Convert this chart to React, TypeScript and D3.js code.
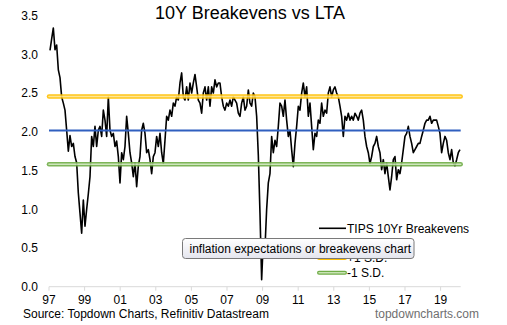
import React from "react";
import * as d3 from "d3";

const W = 507;
const H = 325;
const FONT = '"Liberation Sans", Arial, Helvetica, sans-serif';

const chartTitle = "10Y Breakevens vs LTA";
const sourceText = "Source: Topdown Charts, Refinitiv Datastream";
const brandText = "topdowncharts.com";
const tooltipText = "inflation expectations or breakevens chart";

const yTicks = [0, 0.5, 1, 1.5, 2, 2.5, 3, 3.5];
const xTickYears = [1997, 1999, 2001, 2003, 2005, 2007, 2009, 2011, 2013, 2015, 2017, 2019];
const xTickLabels = ["97", "99", "01", "03", "05", "07", "09", "11", "13", "15", "17", "19"];

// samples roughly every 34 days starting early 1997
const firstSampleYear = 1997.056;
const sampleStepYears = 0.09363;

const breakevens = [
  3.05, 3.2, 3.34, 3.06, 3.12, 2.8, 2.7, 2.45, 2.37, 2.28,
  2.02, 1.75, 1.95, 1.81, 1.85, 1.68, 1.6, 1.21, 0.95, 0.69,
  1.12, 0.78, 1.0, 1.2, 1.42, 1.94, 1.81, 2.07, 1.81, 2.02,
  2.07, 1.94, 2.28, 2.15, 1.94, 2.45, 2.02, 1.94, 1.98, 1.81,
  1.88, 1.68, 1.34, 1.73, 1.64, 1.81, 2.2, 1.98, 1.73, 1.6,
  1.42, 1.6, 1.29, 1.56, 1.68, 2.02, 2.11, 1.98, 1.73, 1.77,
  1.64, 1.46, 1.68,
  1.73, 1.94, 1.81, 1.98, 1.73, 1.59, 1.89, 2.2, 2.15, 2.28,
  2.2, 2.37, 2.33, 2.45, 2.41, 2.63, 2.76, 2.45, 2.41, 2.58,
  2.41, 2.63, 2.5, 2.63, 2.74, 2.58, 2.41, 2.37, 2.24, 2.5,
  2.58, 2.41, 2.58, 2.33, 2.58, 2.5, 2.67, 2.58, 2.63, 2.63,
  2.45, 2.33, 2.28, 2.37, 2.33, 2.41, 2.33, 2.45, 2.41, 2.37,
  2.24, 2.2, 2.37, 2.45, 2.28, 2.33, 2.54, 2.37, 2.33, 2.5,
  2.45,
  2.2, 1.7, 0.95, 0.09, 0.6, 0.5, 1.0, 1.34, 1.46, 1.94,
  1.73, 1.89, 1.81, 2.07, 2.37, 2.33, 2.2, 2.41, 2.15, 1.94,
  2.02, 1.77, 1.55, 1.85, 2.07, 2.33, 2.28, 2.5, 2.63, 2.45,
  2.58, 2.2, 2.37, 2.07, 1.77, 1.98, 1.94, 2.15, 2.11, 2.37,
  2.2, 2.28, 2.24, 2.5, 2.58, 2.45, 2.54, 2.58, 2.5, 2.45,
  2.33, 2.2, 1.94, 2.2, 2.15, 2.24, 2.15, 2.2, 2.15, 2.24,
  2.2, 2.15, 2.24, 2.28, 2.15, 1.94,
  1.81, 1.73, 1.59, 1.68, 1.81, 1.85, 1.94, 1.81, 1.73, 1.51,
  1.64, 1.46, 1.6, 1.42, 1.25, 1.42, 1.64, 1.68, 1.38, 1.51,
  1.46, 1.6, 1.77, 1.94, 1.98, 2.07, 1.94, 1.85, 1.73, 1.77,
  1.81, 1.85, 1.85, 1.94, 2.02, 2.11, 2.15, 2.15, 2.2, 2.11,
  2.15, 2.15, 2.15, 2.07, 1.98, 1.73, 1.85, 1.94, 1.89, 1.73,
  1.64, 1.77, 1.6, 1.56, 1.64, 1.73, 1.77,
];

const longTermAvg = 2.015;
const plusOneSD = 2.455;
const minusOneSD = 1.58;

// second entry (long-term average) sits fully under the tooltip in the reference
const legendLabels = ["TIPS 10Yr Breakevens", "", "+1 S.D.", "-1 S.D."];

const YELLOW = "#ffc000";
const YELLOW_IN = "#ffe48a";
const BLUE = "#2f5fbf";
const GREEN = "#70ad47";
const GREEN_IN = "#c9e3b6";

export default function App() {
  const x = d3.scaleLinear().domain([1997, 2020.13]).range([49, 460.7]);
  const y = d3.scaleLinear().domain([0, 3.5]).range([286.7, 15.6]);

  const points: [number, number][] = breakevens.map((v, i) => [
    firstSampleYear + i * sampleStepYears,
    v,
  ]);
  const line = d3
    .line<[number, number]>()
    .x((d) => x(d[0]))
    .y((d) => y(d[1]));

  const x0 = x.range()[0];
  const x1 = x.range()[1];

  const band = (val: number, outer: string, inner: string) => (
    <g opacity={0.9}>
      <line x1={x0} x2={x1} y1={y(val)} y2={y(val)} stroke={outer} strokeWidth={4.5} strokeLinecap="round" />
      <line x1={x0} x2={x1} y1={y(val)} y2={y(val)} stroke={inner} strokeWidth={1.6} strokeLinecap="round" />
    </g>
  );

  const legX = 319;
  const legY0 = 228.3;
  const legStep = 14.8;

  return (
    <svg
      width={W}
      height={H}
      style={{ position: "absolute", left: 0, top: 0, background: "#fff" }}
      fontFamily={FONT}
    >
      <defs>
        <linearGradient id="tipGrad" x1="0" y1="0" x2="0" y2="1">
          <stop offset="0" stopColor="#ffffff" />
          <stop offset="1" stopColor="#e4e5ee" />
        </linearGradient>
      </defs>
      <rect x={0} y={0} width={W} height={H} fill="#fff" />

      <text x={250} y={19} textAnchor="middle" fontSize={18} fill="#000">
        {chartTitle}
      </text>

      {yTicks.map((t) => (
        <text key={t} x={38} y={y(t) + 4.3} textAnchor="end" fontSize={12} fill="#000">
          {t.toFixed(1)}
        </text>
      ))}

      {/* x axis */}
      <line x1={x0} x2={x1} y1={y(0)} y2={y(0)} stroke="#d9d9d9" strokeWidth={1} />
      {xTickYears.map((yr, i) => (
        <g key={yr}>
          <line x1={x(yr)} x2={x(yr)} y1={y(0)} y2={y(0) + 4} stroke="#d9d9d9" strokeWidth={1} />
          <text x={x(yr)} y={303.5} textAnchor="middle" fontSize={12} fill="#000">
            {xTickLabels[i]}
          </text>
        </g>
      ))}

      <path d={line(points) || ""} fill="none" stroke="#000" strokeWidth={1.6} strokeLinejoin="round" />

      {band(plusOneSD, YELLOW, YELLOW_IN)}
      <line x1={x0} x2={x1} y1={y(longTermAvg)} y2={y(longTermAvg)} stroke={BLUE} strokeWidth={2} />
      {band(minusOneSD, GREEN, GREEN_IN)}

      {/* legend */}
      {legendLabels.map((lab, i) => {
        const ly = legY0 + i * legStep;
        return (
          <g key={i}>
            {i === 0 && <line x1={legX} x2={legX + 27} y1={ly} y2={ly} stroke="#000" strokeWidth={1.6} />}
            {i === 1 && <line x1={legX} x2={legX + 27} y1={ly} y2={ly} stroke={BLUE} strokeWidth={2} />}
            {i === 2 && (
              <g>
                <line x1={legX} x2={legX + 26} y1={ly} y2={ly} stroke={YELLOW} strokeWidth={4} strokeLinecap="round" />
                <line x1={legX} x2={legX + 26} y1={ly} y2={ly} stroke={YELLOW_IN} strokeWidth={1.5} strokeLinecap="round" />
              </g>
            )}
            {i === 3 && (
              <g>
                <line x1={legX} x2={legX + 26} y1={ly} y2={ly} stroke={GREEN} strokeWidth={4} strokeLinecap="round" />
                <line x1={legX} x2={legX + 26} y1={ly} y2={ly} stroke={GREEN_IN} strokeWidth={1.5} strokeLinecap="round" />
              </g>
            )}
            {lab && (
              <text x={legX + 28} y={ly + 4.3} fontSize={12} fill="#000">
                {lab}
              </text>
            )}
          </g>
        );
      })}

      {/* tooltip */}
      <rect x={182.5} y={238.5} width={231.5} height={20} rx={3} fill="url(#tipGrad)" stroke="#7a7a7a" strokeWidth={1} />
      <text x={189.5} y={252.5} fontSize={12} fill="#000">
        {tooltipText}
      </text>

      <text x={23} y={318} fontSize={12} fill="#000">
        {sourceText}
      </text>
      <text x={479} y={318} textAnchor="end" fontSize={12} fill="#6f6f6f">
        {brandText}
      </text>
    </svg>
  );
}
